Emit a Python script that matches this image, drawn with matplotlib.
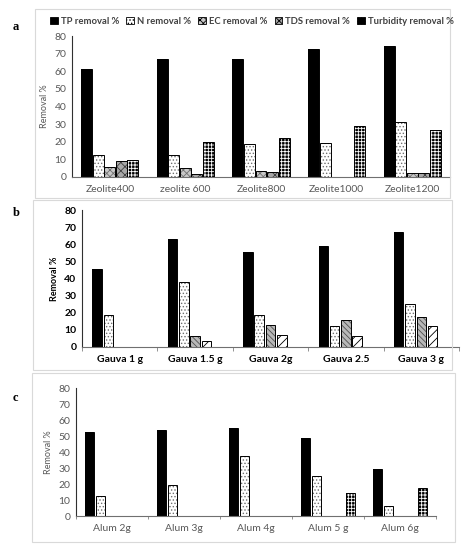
import matplotlib
matplotlib.use("Agg")
import matplotlib.pyplot as plt
from matplotlib.patches import Patch, Rectangle
import numpy as np

# ================ DATA ================
series = ["TP removal %", "N removal %", "EC removal %", "TDS removal %", "Turbidity removal %"]

zeolite_labels = ["Zeolite400", "zeolite 600", "Zeolite800", "Zeolite1000", "Zeolite1200"]
zeolite_tp = [61, 67, 67, 72.6, 74.5]
zeolite_n = [12.6, 12.6, 18.9, 19.2, 31.3]
zeolite_ec = [5.7, 5.1, 3.4, 0, 2.3]
zeolite_tds = [8.9, 1.7, 3.0, 0, 2.3]
zeolite_turb = [9.8, 19.8, 22.3, 28.7, 26.4]

gauva_labels = ["Gauva 1 g", "Gauva 1.5 g", "Gauva 2g", "Gauva 2.5", "Gauva 3 g"]
gauva_tp = [45.3, 63.2, 55.2, 59.1, 67.1]
gauva_n = [18.5, 37.7, 18.5, 12.5, 25.2]
gauva_ec = [0, 6.2, 12.7, 15.6, 17.6]
gauva_tds = [0, 3.7, 7.2, 6.2, 12.5]
gauva_turb = [0, 0, 0, 0, 0]

alum_labels = ["Alum 2g", "Alum 3g", "Alum 4g", "Alum 5 g", "Alum 6g"]
alum_tp = [52.8, 53.7, 54.7, 48.6, 29.2]
alum_n = [12.5, 19.2, 37.6, 25.0, 6.5]
alum_ec = [0, 0, 0, 0, 0]
alum_tds = [0, 0, 0, 0, 0]
alum_turb = [0, 0, 0, 14.4, 17.7]

# ================ STYLES ================
plt.rcParams["hatch.linewidth"] = 0.6
W, H = 466, 550

# (facecolor, hatch, hatch colour)
style_a = [("black", None, "black"),
           ("white", ".....", "#707070"),
           ("#c8c8c8", "xxxxx", "#707070"),
           ("#a8a8a8", "xxxx", "#404040"),
           ("black", "+++++", "white")]
style_b = [("black", None, "black"),
           ("white", ".....", "#707070"),
           ("#b8b8b8", "\\\\\\\\\\\\", "#505050"),
           ("white", "////", "black"),
           ("black", "+++++", "white")]


def fig_rect(l, t, r, b):
    return [l / W, 1 - b / H, (r - l) / W, (b - t) / H]


def draw_panel(ax, labels, data, styles, width, pitch, txt_color, weight, tick_len):
    x = np.arange(len(labels))
    for i, vals in enumerate(data):
        fc, hatch, hc = styles[i]
        pos = x + (i - 2) * pitch
        ax.bar(pos, vals, width, color=fc, hatch=hatch, edgecolor=hc, linewidth=0, zorder=2)
        ax.bar(pos, vals, width, fill=False, edgecolor="black", linewidth=0.7, zorder=3)
    ax.set_xlim(-0.5, len(labels) - 0.5)
    ax.set_ylim(0, 80)
    ax.set_yticks(range(0, 81, 10))
    ax.set_xticks(x)
    ax.set_xticklabels(labels)
    ax.set_xticks(np.arange(-0.5, len(labels) + 0.5, 1), minor=True)
    ax.tick_params(axis="x", which="major", length=0, pad=6, labelsize=7.5,
                   labelcolor=txt_color)
    ax.tick_params(axis="x", which="minor", length=tick_len, color="#808080", width=0.6)
    ax.tick_params(axis="y", length=0, pad=4, labelsize=7.5, labelcolor=txt_color)
    for lab in ax.get_xticklabels() + ax.get_yticklabels():
        lab.set_fontweight(weight)
    ax.set_ylabel("Removal %", fontsize=6.5, color=txt_color, fontweight=weight, labelpad=4)
    for s in ["top", "right"]:
        ax.spines[s].set_visible(False)
    ax.spines["left"].set_color("#303030")
    ax.spines["bottom"].set_color("#707070")
    ax.spines["left"].set_linewidth(0.8)
    ax.spines["bottom"].set_linewidth(0.8)


plt.rcParams["font.family"] = ["Lato", "DejaVu Sans"]
fig = plt.figure(figsize=(W / 100, H / 100), dpi=100)

# panel frames
for l, t, r, b in [(35, 9, 450, 198), (33, 200, 452, 370), (32, 373, 455, 542)]:
    fig.patches.append(Rectangle((l / W, 1 - b / H), (r - l) / W, (b - t) / H,
                                 transform=fig.transFigure, fill=False,
                                 edgecolor="#d9d9d9", linewidth=0.8))

ax_a = fig.add_axes(fig_rect(72, 36, 450, 177))
draw_panel(ax_a, zeolite_labels,
           [zeolite_tp, zeolite_n, zeolite_ec, zeolite_tds, zeolite_turb],
           style_a, 0.145, 0.153, "#595959", "normal", 0)

ax_b = fig.add_axes(fig_rect(82, 210, 459, 347))
draw_panel(ax_b, gauva_labels,
           [gauva_tp, gauva_n, gauva_ec, gauva_tds, gauva_turb],
           style_b, 0.125, 0.15, "black", "bold", 3)

ax_c = fig.add_axes(fig_rect(76, 388, 436, 516))
draw_panel(ax_c, alum_labels,
           [alum_tp, alum_n, alum_ec, alum_tds, alum_turb],
           style_a, 0.125, 0.155, "#595959", "normal", 2.5)

# legend (panel a only)
handles = []
for (fc, hatch, hc), name in zip(style_a, series):
    handles.append(Patch(facecolor=fc, hatch=hatch, edgecolor="black", linewidth=0.6, label=name))
leg = fig.legend(handles=handles, loc="center", bbox_to_anchor=(252 / W, 1 - 21 / H),
                 ncol=5, frameon=False, handlelength=0.8, handleheight=0.8,
                 handletextpad=0.3, columnspacing=0.8,
                 prop={"size": 6.8, "weight": "bold"})
for t in leg.get_texts():
    t.set_color("#404040")

# panel letters
for letter, (px, py) in zip("abc", [(13, 27), (13, 213), (13, 398)]):
    fig.text(px / W, 1 - py / H, letter, fontsize=9, fontweight="bold",
             family="Liberation Serif", ha="left", va="center")

fig.savefig("out.png", dpi=100)
